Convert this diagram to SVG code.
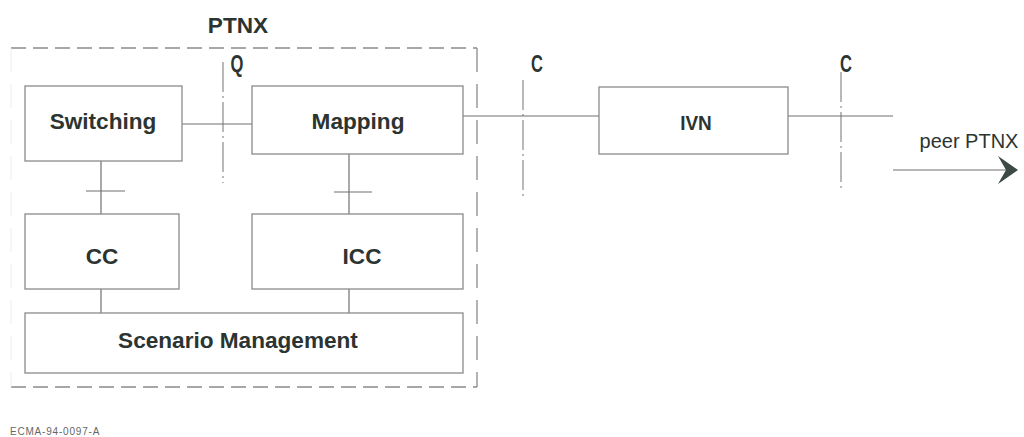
<svg xmlns="http://www.w3.org/2000/svg" width="1024" height="437" viewBox="0 0 1024 437">
<style>
.box{fill:#fff;stroke:#8a8a8a;stroke-width:1.3}
.ln{stroke:#707070;stroke-width:1.2;fill:none}
.dash{stroke:#8a8a8a;stroke-width:1.3;fill:none;stroke-dasharray:15 7}
.dashv{stroke:#8a8a8a;stroke-width:1.3;fill:none;stroke-dasharray:24 12}
.dd{stroke:#8a8a8a;stroke-width:1.2;fill:none;stroke-dasharray:30 4 2 4}
.lbl{font-family:"Liberation Sans",Arial,sans-serif;font-weight:bold;font-size:22.6px;fill:#2b3431;text-anchor:middle}
.ref{font-family:"Liberation Sans",Arial,sans-serif;font-weight:bold;font-size:23px;fill:#2b3431;text-anchor:middle}
</style>
<rect width="1024" height="437" fill="#fff"/>
<g id="ptnx-boundary">
<line x1="11" y1="48" x2="477" y2="48" class="dash"/>
<line x1="11" y1="387" x2="477" y2="387" class="dash"/>
<line x1="11" y1="48" x2="11" y2="387" stroke="#ececec" stroke-width="1" stroke-dasharray="24 12"/>
<line x1="477" y1="48" x2="477" y2="387" class="dashv"/>
<text x="238" y="33" class="lbl">PTNX</text>
</g>
<g id="ref-points">
<line x1="223" y1="62" x2="223" y2="183" class="dd"/>
<text transform="translate(237 72) scale(0.72 1)" class="ref">Q</text>
<line x1="523" y1="80" x2="523" y2="199" class="dd"/>
<text transform="translate(537 72) scale(0.72 1)" class="ref">C</text>
<line x1="841" y1="72" x2="841" y2="192" class="dd"/>
<text transform="translate(846 72) scale(0.72 1)" class="ref">C</text>
</g>
<g id="connectors">
<line x1="182" y1="124" x2="252" y2="124" class="ln"/>
<line x1="101" y1="161" x2="101" y2="214" class="ln"/>
<line x1="86" y1="191" x2="125" y2="191" class="ln"/>
<line x1="349" y1="154" x2="349" y2="214" class="ln"/>
<line x1="334" y1="192" x2="372" y2="192" class="ln"/>
<line x1="101" y1="289" x2="101" y2="313" class="ln"/>
<line x1="349" y1="289" x2="349" y2="313" class="ln"/>
<line x1="463" y1="116" x2="599" y2="116" class="ln"/>
<line x1="788" y1="116" x2="893" y2="116" class="ln"/>
<line x1="893" y1="170" x2="1010" y2="170" class="ln"/>
<polygon points="998,156 1018,170 998,184 1006,170" fill="#3c4a45"/>
</g>
<g id="switching">
<rect x="25" y="86" width="157" height="75" class="box"/>
<text x="103" y="129" class="lbl">Switching</text>
</g>
<g id="mapping">
<rect x="252" y="86" width="211" height="68" class="box"/>
<text x="358" y="129" class="lbl">Mapping</text>
</g>
<g id="cc">
<rect x="25" y="214" width="154" height="75" class="box"/>
<text x="102" y="264" class="lbl">CC</text>
</g>
<g id="icc">
<rect x="252" y="214" width="211" height="75" class="box"/>
<text x="362" y="264" class="lbl">ICC</text>
</g>
<g id="scenario">
<rect x="25" y="313" width="438" height="60" class="box"/>
<text x="238" y="348" class="lbl">Scenario Management</text>
</g>
<g id="ivn">
<rect x="599" y="87" width="189" height="67" class="box"/>
<text x="696" y="130" class="lbl" style="font-size:20px" transform="translate(696 0) scale(0.95 1) translate(-696 0)">IVN</text>
</g>
<g id="peer">
<text x="969" y="148" font-family="'Liberation Sans',Arial,sans-serif" font-size="20" fill="#2b3431" text-anchor="middle">peer PTNX</text>
</g>
<text x="10" y="435" font-family="'Liberation Sans',Arial,sans-serif" font-size="10" letter-spacing="0.8" fill="#666">ECMA-94-0097-A</text>
</svg>
